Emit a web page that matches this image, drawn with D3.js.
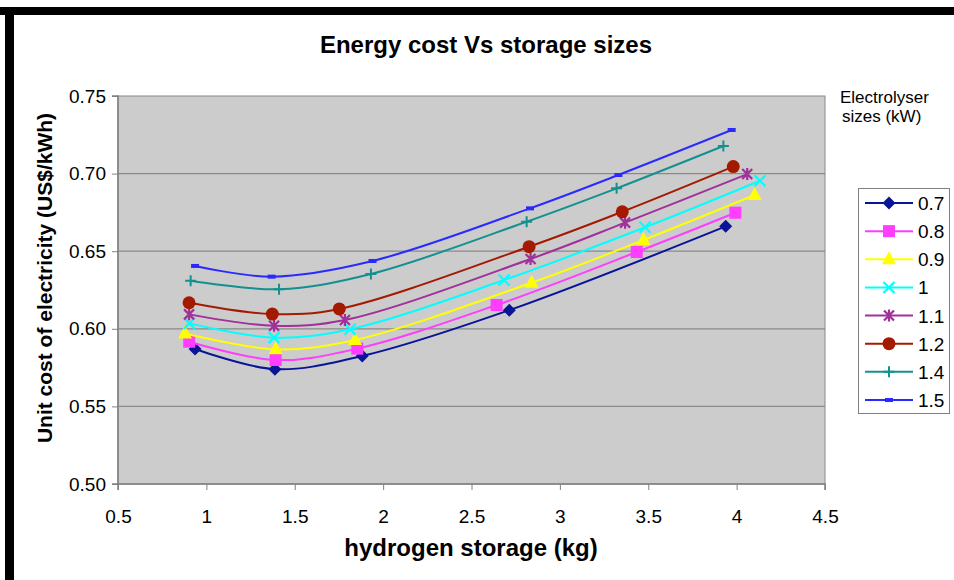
<!DOCTYPE html>
<html>
<head>
<meta charset="utf-8">
<script src="https://cdn.jsdelivr.net/npm/d3@7"></script>
<style>
  html, body { margin: 0; padding: 0; background: #fff; }
  svg { display: block; font-family: "Liberation Sans", Arial, sans-serif; }
</style>
</head>
<body>
<svg id="chart" width="954" height="580"></svg>
<script>
// Electrolyser sizes (kW), one curve each
const seriesNames = ["0.7", "0.8", "0.9", "1", "1.1", "1.2", "1.4", "1.5"];

// hydrogen storage (kg) for each curve
const storage07 = [0.936, 1.388, 1.882, 2.714, 3.938];
const storage08 = [0.903, 1.392, 1.854, 2.642, 3.435, 3.993];
const storage09 = [0.879, 1.392, 1.841, 2.840, 3.473, 4.102];
const storage10 = [0.904, 1.383, 1.813, 2.684, 3.482, 4.132];
const storage11 = [0.902, 1.383, 1.784, 2.834, 3.369, 4.060];
const storage12 = [0.902, 1.373, 1.752, 2.826, 3.353, 3.981];
const storage14 = [0.911, 1.411, 1.931, 2.812, 3.321, 3.925];
const storage15 = [0.936, 1.369, 1.940, 2.831, 3.331, 3.972];

// unit cost of electricity (US$/kWh) for each curve
const cost07 = [0.587, 0.574, 0.5825, 0.612, 0.666];
const cost08 = [0.5917, 0.5799, 0.5872, 0.6153, 0.6495, 0.6748];
const cost09 = [0.597, 0.5868, 0.5928, 0.6297, 0.6572, 0.6862];
const cost10 = [0.6035, 0.5943, 0.5997, 0.6314, 0.6654, 0.6954];
const cost11 = [0.6093, 0.602, 0.6057, 0.645, 0.6684, 0.6997];
const cost12 = [0.6168, 0.6095, 0.6128, 0.6529, 0.6754, 0.7045];
const cost14 = [0.631, 0.6255, 0.6353, 0.669, 0.6905, 0.7178];
const cost15 = [0.6405, 0.6336, 0.6437, 0.6776, 0.6991, 0.7281];

const xTicks = [0.5, 1, 1.5, 2, 2.5, 3, 3.5, 4, 4.5];
const yTicks = [0.50, 0.55, 0.60, 0.65, 0.70, 0.75];

const storageBySeries = [storage07, storage08, storage09, storage10, storage11, storage12, storage14, storage15];
const costBySeries = [cost07, cost08, cost09, cost10, cost11, cost12, cost14, cost15];

const colors = ["#0a1496", "#ff3dff", "#ffff00", "#00ffff", "#a0309a", "#a31a00", "#139090", "#2a2aff"];
const markerTypes = ["diamond", "square", "triangle", "cross", "asterisk", "circle", "plus", "dash"];

const series = seriesNames.map((name, i) => ({
  name,
  color: colors[i],
  marker: markerTypes[i],
  points: storageBySeries[i].map((s, j) => ({ x: s, y: costBySeries[i][j] }))
}));

const svg = d3.select("#chart");

// frame edges of the chart object
svg.append("rect").attr("x", 0).attr("y", 7).attr("width", 954).attr("height", 8).attr("fill", "#000");
svg.append("rect").attr("x", 5).attr("y", 7).attr("width", 9).attr("height", 573).attr("fill", "#000");

const plot = { left: 118, right: 825, top: 96, bottom: 484 };

const x = d3.scaleLinear().domain([0.5, 4.5]).range([plot.left, plot.right]);
const y = d3.scaleLinear().domain([0.5, 0.75]).range([plot.bottom, plot.top]);

// plot area background
svg.append("rect")
  .attr("x", plot.left).attr("y", plot.top)
  .attr("width", plot.right - plot.left).attr("height", plot.bottom - plot.top)
  .attr("fill", "#cccccc").attr("stroke", "#8a8a8a").attr("stroke-width", 1);

// horizontal gridlines
svg.append("g")
  .selectAll("line")
  .data(yTicks.slice(1, -1))
  .join("line")
  .attr("x1", plot.left).attr("x2", plot.right)
  .attr("y1", d => y(d)).attr("y2", d => y(d))
  .attr("stroke", "#8a8a8a").attr("stroke-width", 1.2);

// axes
const yAxis = d3.axisLeft(y).tickValues(yTicks).tickFormat(d3.format(".2f")).tickSize(6).tickPadding(6);
const xAxis = d3.axisBottom(x).tickValues(xTicks).tickFormat(d => String(d)).tickSize(6).tickPadding(23);

const gy = svg.append("g").attr("transform", `translate(${plot.left},0)`).call(yAxis);
const gx = svg.append("g").attr("transform", `translate(0,${plot.bottom})`).call(xAxis);

[gx, gy].forEach(g => {
  g.select(".domain").attr("stroke", "#808080").attr("stroke-width", 1.5);
  g.selectAll(".tick line").attr("stroke", "#808080");
  g.selectAll(".tick text")
    .attr("fill", "#000")
    .style("font-size", "19px")
    .style("font-family", "'Liberation Sans', Arial, sans-serif");
});
gy.select(".domain").attr("d", `M-6,${plot.top}H0V${plot.bottom}H-6`);
gx.select(".domain").attr("d", `M${plot.left},6V0H${plot.right}V6`);
gx.selectAll(".tick text").attr("dy", "0.5em");

// marker drawing
function drawMarker(g, type, color, cx, cy) {
  const m = g.append("g").attr("transform", `translate(${cx},${cy})`);
  switch (type) {
    case "diamond":
      m.append("path").attr("d", "M0,-6.5L6.5,0L0,6.5L-6.5,0Z").attr("fill", color);
      break;
    case "square":
      m.append("rect").attr("x", -6).attr("y", -6).attr("width", 12).attr("height", 12).attr("fill", color);
      break;
    case "triangle":
      m.append("path").attr("d", "M0,-8L7,5L-7,5Z").attr("fill", color);
      break;
    case "cross":
      m.append("path").attr("d", "M-5.5,-5.5L5.5,5.5M-5.5,5.5L5.5,-5.5").attr("stroke", color).attr("stroke-width", 2.2);
      break;
    case "asterisk":
      m.append("path").attr("d", "M-5,-5L5,5M-5,5L5,-5M0,-6V6").attr("stroke", color).attr("stroke-width", 2.2);
      break;
    case "circle":
      m.append("circle").attr("r", 6.5).attr("fill", color);
      break;
    case "plus":
      m.append("path").attr("d", "M-5.5,0H5.5M0,-5.5V5.5").attr("stroke", color).attr("stroke-width", 2);
      break;
    case "dash":
      m.append("rect").attr("x", -4).attr("y", -2).attr("width", 8).attr("height", 4).attr("fill", color);
      break;
  }
}

const line = d3.line()
  .x(d => x(d.x))
  .y(d => y(d.y))
  .curve(d3.curveCatmullRom.alpha(0.5));

const gSeries = svg.append("g");
series.forEach(s => {
  const g = gSeries.append("g");
  g.append("path")
    .datum(s.points)
    .attr("d", line)
    .attr("fill", "none")
    .attr("stroke", s.color)
    .attr("stroke-width", 2);
  s.points.forEach(p => drawMarker(g, s.marker, s.color, x(p.x), y(p.y)));
});

// title and axis titles
svg.append("text")
  .attr("x", 486).attr("y", 53)
  .attr("text-anchor", "middle")
  .style("font-size", "24px").style("font-weight", "bold")
  .text("Energy cost Vs storage sizes");

svg.append("text")
  .attr("x", 471).attr("y", 556)
  .attr("text-anchor", "middle")
  .style("font-size", "24px").style("font-weight", "bold")
  .text("hydrogen storage (kg)");

svg.append("text")
  .attr("transform", "translate(52,278) rotate(-90)")
  .attr("text-anchor", "middle")
  .style("font-size", "21px").style("font-weight", "bold")
  .text("Unit cost of electricity (US$/kWh)");

// legend heading
svg.append("text").attr("x", 840).attr("y", 103).style("font-size", "17px").text("Electrolyser");
svg.append("text").attr("x", 842).attr("y", 122).style("font-size", "17px").text("sizes (kW)");

// legend
const legend = svg.append("g");
legend.append("rect")
  .attr("x", 858.5).attr("y", 188.5).attr("width", 91).attr("height", 225)
  .attr("fill", "#fff").attr("stroke", "#808080").attr("stroke-width", 1);

const legendY = d3.scalePoint().domain(seriesNames).range([203, 400]);
series.forEach(s => {
  const cy = legendY(s.name);
  const g = legend.append("g");
  g.append("line").attr("x1", 865).attr("x2", 913).attr("y1", cy).attr("y2", cy)
    .attr("stroke", s.color).attr("stroke-width", 2);
  drawMarker(g, s.marker, s.color, 889, cy);
  g.append("text").attr("x", 918).attr("y", cy + 7).style("font-size", "19px").text(s.name);
});
</script>
</body>
</html>
